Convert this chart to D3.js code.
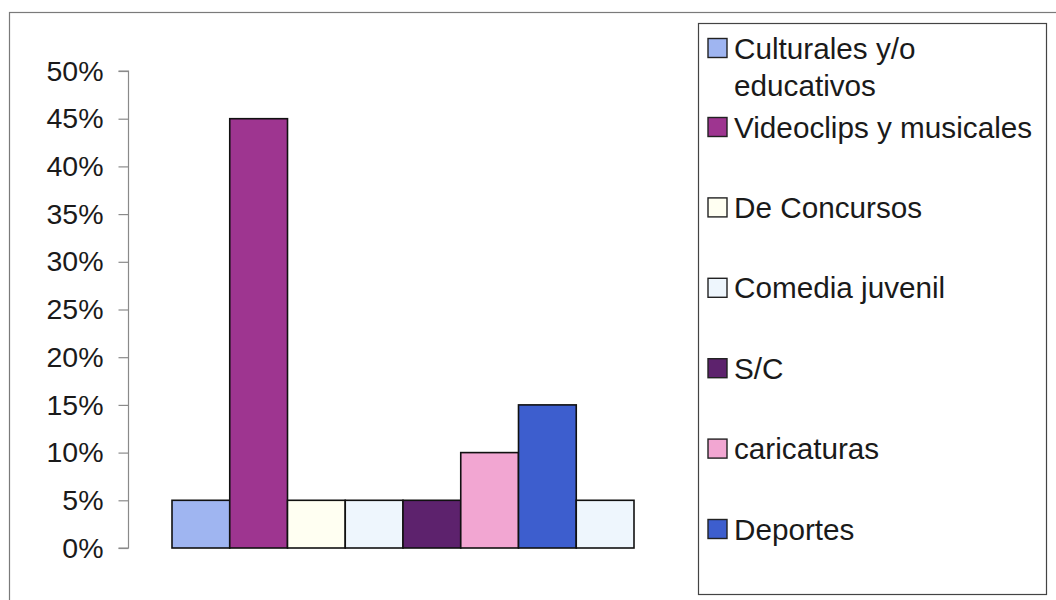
<!DOCTYPE html>
<html>
<head>
<meta charset="utf-8">
<script src="https://cdn.jsdelivr.net/npm/d3@7"></script>
<style>
  html, body { margin: 0; padding: 0; background: #ffffff; }
  svg { display: block; font-family: "Liberation Sans", Arial, sans-serif; }
</style>
</head>
<body>
<svg id="chart" width="1056" height="600"></svg>
<script>
// ---- data ----
const categories = ["Culturales y/o educativos", "Videoclips y musicales", "De Concursos",
                    "Comedia juvenil", "S/C", "caricaturas", "Deportes", null];
const values = [5, 45, 5, 5, 5, 10, 15, 5];
const colors = ["#9fb5f1", "#9e3590", "#fffff2", "#eef6fd", "#5d226d", "#f2a6d2", "#3d5ece", "#eef6fd"];
const yTicks = [0, 5, 10, 15, 20, 25, 30, 35, 40, 45, 50];
const legendLines = [["Culturales y/o", "educativos"], ["Videoclips y musicales"], ["De Concursos"],
                     ["Comedia juvenil"], ["S/C"], ["caricaturas"], ["Deportes"]];

const svg = d3.select("#chart");

// outer chart border (extends beyond right/bottom edges)
svg.append("rect")
  .attr("x", 9.5).attr("y", 12.5)
  .attr("width", 1200).attr("height", 700)
  .attr("fill", "none").attr("stroke", "#7a7a7a").attr("stroke-width", 1.2);

// scales
const y = d3.scaleLinear().domain([0, 50]).range([548, 71]);
const x = d3.scaleBand().domain(d3.range(values.length)).range([172, 634]).padding(0);

// y axis
const yAxis = d3.axisLeft(y)
  .tickValues(yTicks)
  .tickSize(10)
  .tickPadding(15)
  .tickFormat(d => d + "%");

const gAxis = svg.append("g").attr("transform", "translate(128.5,0)").call(yAxis);
gAxis.select(".domain").attr("stroke", "#8a8a8a").attr("stroke-width", 1.2)
  .attr("d", `M-10,${y(50)}H0V${y(0)}H-10`);
gAxis.selectAll(".tick line").attr("stroke", "#8a8a8a").attr("stroke-width", 1.2);
gAxis.selectAll(".tick text")
  .attr("fill", "#1a1a1a")
  .style("font-size", "28.5px")
  .style("font-family", "'Liberation Sans', Arial, sans-serif");

// bars
svg.append("g").selectAll("rect")
  .data(values)
  .join("rect")
  .attr("x", (d, i) => x(i))
  .attr("y", d => y(d))
  .attr("width", x.bandwidth())
  .attr("height", d => y(0) - y(d))
  .attr("fill", (d, i) => colors[i])
  .attr("stroke", "#111")
  .attr("stroke-width", 1.6);

// legend box
svg.append("rect")
  .attr("x", 698.5).attr("y", 23.5)
  .attr("width", 348).attr("height", 571)
  .attr("fill", "#ffffff").attr("stroke", "#444").attr("stroke-width", 1.2);

const legendData = categories.map((c, i) => ({ name: c, color: colors[i], i }))
  .filter(d => d.name !== null);

const fs = 29.7;
const lg = svg.append("g");
legendData.forEach((d, k) => {
  const lines = legendLines[k];
  const firstCenter = k === 0 ? 48 : 127 + (k - 1) * 80.4;
  lg.append("rect")
    .attr("x", 708).attr("y", firstCenter - 9.5)
    .attr("width", 19).attr("height", 19)
    .attr("fill", d.color).attr("stroke", "#222").attr("stroke-width", 1.4);
  lines.forEach((t, j) => {
    lg.append("text")
      .attr("x", 734)
      .attr("y", firstCenter + j * 37 + 10.6)
      .attr("fill", "#1a1a1a")
      .style("font-size", fs + "px")
      .text(t);
  });
});
</script>
</body>
</html>
